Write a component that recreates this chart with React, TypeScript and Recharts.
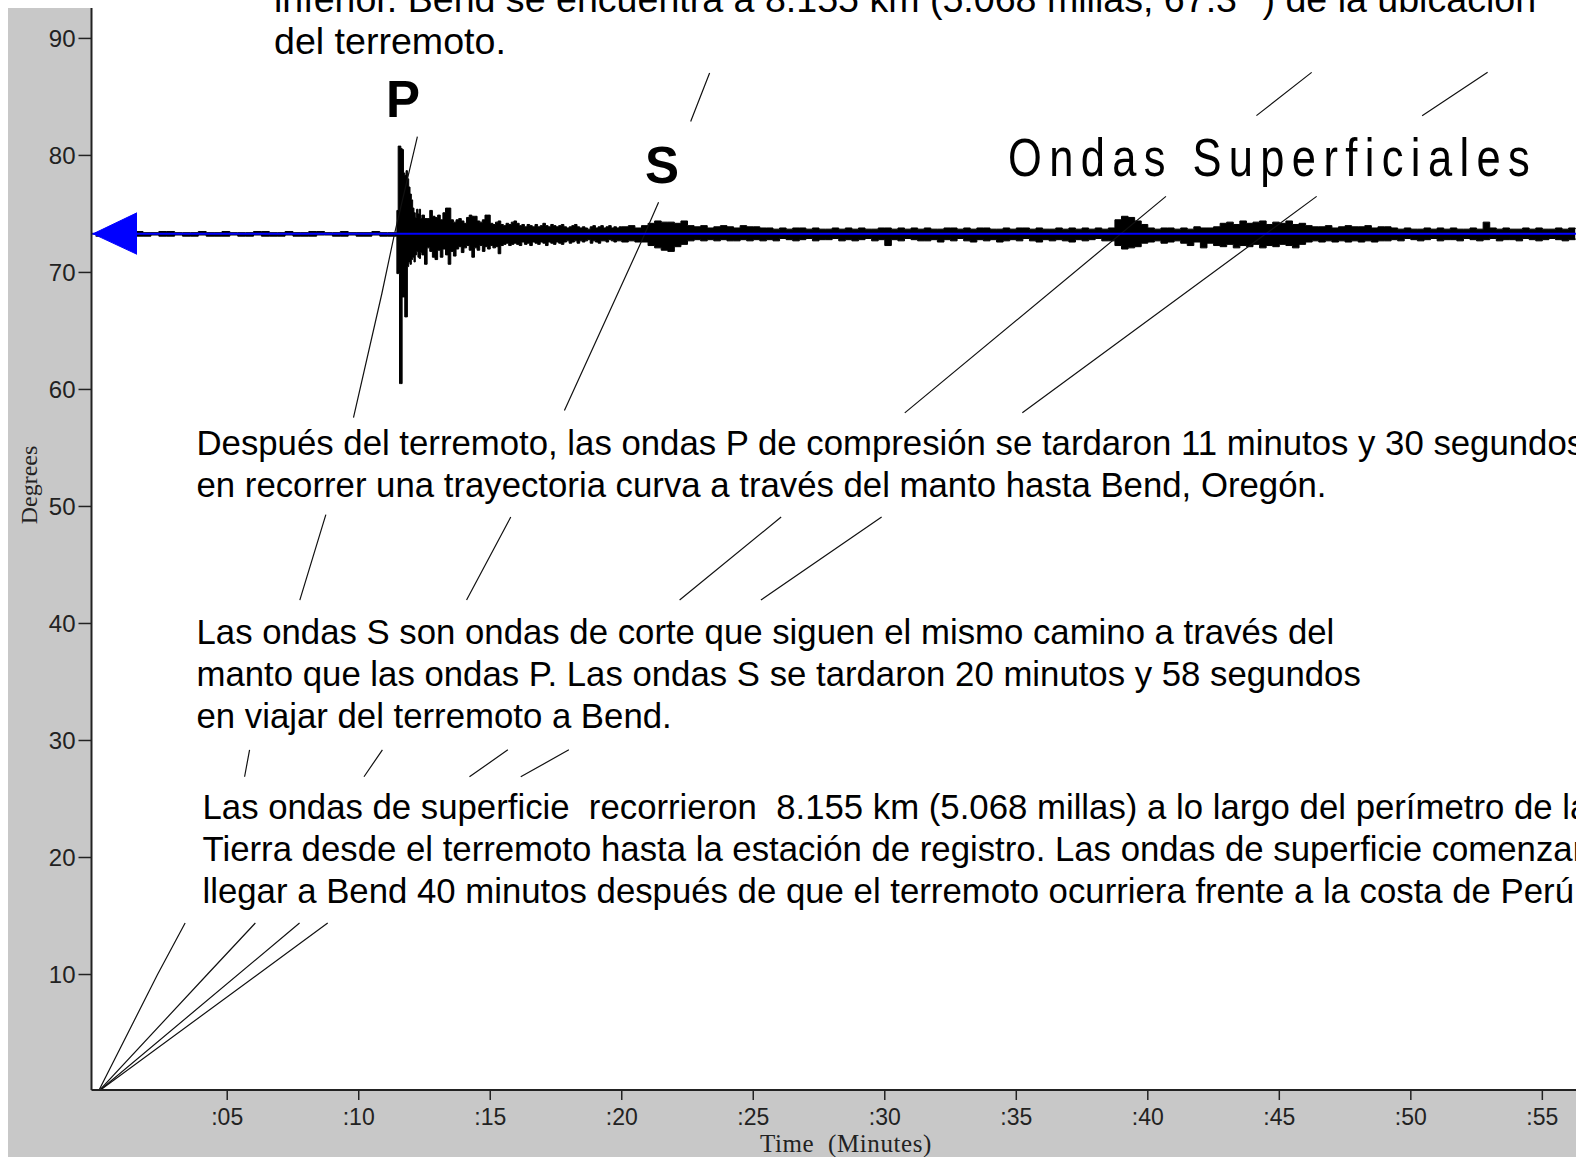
import React from 'react';
import { ComposedChart, Line, Area, XAxis, YAxis, CartesianGrid, Label } from 'recharts';

// ---- axes ----
const xTicks = [5, 10, 15, 20, 25, 30, 35, 40, 45, 50, 55];
const xTickLabels = [':05', ':10', ':15', ':20', ':25', ':30', ':35', ':40', ':45', ':50', ':55'];
const yTicks = [10, 20, 30, 40, 50, 60, 70, 80, 90];

// ---- travel-time curves [minutes, degrees]; null = hidden behind text ----
const pWave: [number, number | null][] = [
  [0.1, 0], [2.35, 10], [3.4, 14.4], [4.5, null], [5.66, 26.9], [5.85, 29.2], [6.8, null],
  [7.76, 42.0], [8.75, 49.3], [9.3, null], [9.8, 57.6], [10.88, 68.2], [11.36, 73.3], [12.23, 81.6],
];
const sWave: [number, number | null][] = [
  [0.1, 0], [4.24, 10], [6.07, 14.4], [8, null], [10.2, 26.9], [10.9, 29.2], [12, null],
  [14.1, 42.0], [15.78, 49.1], [16.8, null], [17.82, 58.2], [20.76, 72.7], [21.4, 76.0], [22, null],
  [22.62, 82.9], [23.34, 87.05],
];
const surfaceA: [number, number | null][] = [
  [0.1, 0], [7.75, 14.4], [10, null], [14.21, 26.9], [15.67, 29.2], [18, null],
  [22.2, 42.0], [26.06, 49.1], [28, null], [30.76, 58.0], [40.69, 76.5], [42, null],
  [44.13, 83.4], [46.23, 87.1],
];
const surfaceB: [number, number | null][] = [
  [0.1, 0], [8.82, 14.4], [12, null], [16.16, 26.9], [17.99, 29.2], [21, null],
  [25.29, 42.0], [29.88, 49.1], [32, null], [35.23, 58.0], [46.42, 76.5], [48, null],
  [50.43, 83.4], [52.92, 87.1],
];

// ---- seismogram (Bend, 73.3 deg): envelope above/below baseline, tenths of a degree ----
const traceBaseline = 73.3;
const preStart = 0, preStep = 0.3;
const preHi = [1,1,2,1,1,2,1,1,2,2, 1,1,1,2,1,1,2,1,1,1, 2,2,1,1,2,1,1,2,2,1, 1,2,1,1,1,2,1,1];
const preLo = [2,1,2,2,1,2,2,1,2,2, 1,2,2,1,2,2,2,1,2,2, 1,2,2,2,1,2,2,2,1,1, 2,2,1,2,2,1,2,2];
const pStart = 11.45, pStep = 0.05;
const pHi = [20,75,75,73,72,52,50,54,47,40, 34,29,22,18,14,21,17,21,13,16];
const pLo = [34,34,128,128,54,54,71,71,28,24, 26,22,20,24,18,15,20,21,16,18];
const codaStart = 12.5, codaStep = 0.1;
const codaHi = [13,13,20,15,14,16,12,18,22,22, 12,10,12,13,11,9,14,16,15,15, 11,10,12,16,16,9,8,10,11,8,
  7,9,8,10,11,9,7,8,6,8, 7,6,8,6,7,9,7,6,8,7, 6,7,8,6,5,6,7,8,6,5, 6,5,4,6,7,5,6,7,5,6, 7,5,6,5,6];
const codaLo = [26,12,15,20,22,14,20,13,18,26, 15,19,13,11,16,12,10,14,20,12, 14,10,15,11,13,10,12,11,17,10,
  9,8,10,9,8,9,10,7,9,8, 10,7,8,9,7,8,10,7,8,9, 7,8,9,7,6,8,7,6,8,6, 7,6,5,8,6,7,8,6,6,7, 5,6,7,6,6];
const restStart = 20.0, restStep = 0.25;
const restHi = [6,7,5,7, 9,11,10,10,9,11, 7,6,7,5,6,7,6,5,7,6,6,5,
  5,4,5,4,5,5,4,5,4,4,5,4,5,4,5,4,4,5,5,4,5,4,5,4,
  5,4,4,5,5,4,5,4,5,5,4,4,5,4,5,5,4,5,4,4,5,4,5,4,5,4,5,4,
  5, 12,15,14,11,8, 5,4,5,5,4,5,4,6,5,5,6,
  9,10,8,11,9,10,11,8,10,9,11,8,9,
  7,6,6,7,5,6,7,6,6,7,5,6,6,
  5,4,5,4,4,5,4,5,4,5,4,4,5,4,10,5,4,5,4,4,5,4,5,4,4,5,4,5,4];
const restLo = [7,6,7,7, 10,12,14,15,11,9, 6,5,6,5,6,5,6,6,5,6,5,6,
  5,6,4,5,6,5,4,6,5,5,4,6,5,6,5,4,6,5,10,5,6,4,5,6,
  6,5,7,5,6,4,6,7,5,6,5,7,6,5,6,4,6,7,5,6,5,6,7,5,6,5,4,6,
  6, 10,13,12,11,8, 7,6,8,7,6,8,10,7,12,8,10,
  11,9,12,10,11,9,12,10,11,9,10,12,9,
  7,6,7,6,7,6,7,6,7,6,7,6,6,
  5,6,4,5,6,5,4,6,5,5,6,4,5,6,5,4,6,5,5,6,4,5,6,5,4,5,6,5,4];

// blue marker arrow and baseline
const arrowTip = { t: -0.1, v: 73.3 };
const arrowBase = { t: 1.57, lo: 71.55, hi: 75.1 };

const curve = (pts: [number, number | null][]) => pts.map(([t, d]) => ({ t, d }));

const segment = (start: number, step: number, hi: number[], lo: number[]) =>
  hi.map((h, i) => ({ t: start + i * step, r: [traceBaseline - lo[i] / 10, traceBaseline + h / 10] }));

const traceData = [
  ...segment(preStart, preStep, preHi, preLo),
  ...segment(pStart, pStep, pHi, pLo),
  ...segment(codaStart, codaStep, codaHi, codaLo),
  ...segment(restStart, restStep, restHi, restLo),
];

const arrowData = [
  { t: arrowTip.t, r: [arrowTip.v, arrowTip.v] },
  { t: arrowBase.t, r: [arrowBase.lo, arrowBase.hi] },
];
const baselineData = [{ t: -0.16, v: traceBaseline }, { t: 56.28, v: traceBaseline }];

const W = 1568;
const H = 1149;

const sans = "'Liberation Sans', Arial, Helvetica, sans-serif";
const serif = "'Liberation Serif', 'Times New Roman', serif";

const YTitle = () => (
  <text x={20.5} y={477} transform="rotate(-90 20.5 477)" textAnchor="middle"
    dominantBaseline="central" fontFamily={serif} fontSize={24} fill="#222">Degrees</text>
);
const XTitle = () => (
  <text x={838} y={1144} textAnchor="middle" fontFamily={serif} fontSize={25} letterSpacing={0.6} fill="#222"
    style={{ whiteSpace: 'pre' }}>{'Time  (Minutes)'}</text>
);

const para: React.CSSProperties = {
  position: 'absolute', fontFamily: sans, fontSize: 34.75, lineHeight: '42.2px',
  whiteSpace: 'pre', color: '#000',
};
const bigLetter: React.CSSProperties = {
  position: 'absolute', fontFamily: sans, fontSize: 51, lineHeight: '51px',
  fontWeight: 'bold', color: '#000',
};

const curveStroke = '#111';

export default function App() {
  return (
    <div style={{ position: 'absolute', left: 8, top: 0, width: W, height: 1157, overflow: 'hidden' }}>
      <div style={{ position: 'absolute', left: 0, top: 8, width: W, height: H, background: '#c8c8c8' }}>
        <ComposedChart width={W} height={H} margin={{ top: 0, right: 0, bottom: 0, left: 0 }}>
          <CartesianGrid horizontal={false} vertical={false} fill="#ffffff" stroke="none" />
          <XAxis type="number" dataKey="t" domain={[-0.16, 56.28]} allowDataOverflow ticks={xTicks}
            interval={0} height={67} tickSize={10} tickMargin={9}
            tickFormatter={(v: number) => xTickLabels[xTicks.indexOf(v)] ?? ''}
            axisLine={{ stroke: '#222', strokeWidth: 2 }} tickLine={{ stroke: '#222', strokeWidth: 1.5 }}
            tick={{ fontSize: 23, fill: '#222', fontFamily: sans }}>
            <Label content={XTitle} />
          </XAxis>
          <YAxis type="number" domain={[0.13, 92.6]} allowDataOverflow ticks={yTicks} interval={0}
            width={83.5} tickSize={13} tickMargin={3}
            axisLine={{ stroke: '#222', strokeWidth: 2 }} tickLine={{ stroke: '#222', strokeWidth: 1.5 }}
            tick={{ fontSize: 24, fill: '#222', fontFamily: sans }}>
            <Label content={YTitle} />
          </YAxis>

          <Line data={curve(pWave)} dataKey="d" stroke={curveStroke} strokeWidth={1.2} dot={false}
            isAnimationActive={false} connectNulls={false} />
          <Line data={curve(sWave)} dataKey="d" stroke={curveStroke} strokeWidth={1.2} dot={false}
            isAnimationActive={false} connectNulls={false} />
          <Line data={curve(surfaceA)} dataKey="d" stroke={curveStroke} strokeWidth={1.2} dot={false}
            isAnimationActive={false} connectNulls={false} />
          <Line data={curve(surfaceB)} dataKey="d" stroke={curveStroke} strokeWidth={1.2} dot={false}
            isAnimationActive={false} connectNulls={false} />

          <Area data={traceData} dataKey="r" type="stepAfter" fill="#000" fillOpacity={1}
            stroke="#000" strokeWidth={1} isAnimationActive={false} />
          <Line data={baselineData} dataKey="v" stroke="#0000ff" strokeWidth={2} dot={false}
            isAnimationActive={false} />
          <Area data={arrowData} dataKey="r" type="linear" fill="#0000ff" fillOpacity={1}
            stroke="#0000ff" strokeWidth={1} isAnimationActive={false} />
        </ComposedChart>
      </div>

      <div style={{ ...para, fontSize: 37.6, left: 266, top: -22.5 }}>
        {'inferior. Bend se encuentra a 8.155 km (5.068 millas, 67.3° ) de la ubicación\ndel terremoto.'}
      </div>
      <div style={{ ...bigLetter, left: 378, top: 74.4 }}>P</div>
      <div style={{ ...bigLetter, left: 637, top: 140 }}>S</div>
      <div style={{
        position: 'absolute', left: 1000, top: 131, fontFamily: sans, fontSize: 53, lineHeight: '53px',
        letterSpacing: 9.0, whiteSpace: 'pre', color: '#000', transform: 'scaleX(0.82)', transformOrigin: '0 0',
      }}>Ondas Superficiales</div>
      <div style={{ ...para, left: 188.5, top: 422 }}>
        {'Después del terremoto, las ondas P de compresión se tardaron 11 minutos y 30 segundos\nen recorrer una trayectoria curva a través del manto hasta Bend, Oregón.'}
      </div>
      <div style={{ ...para, left: 188.5, top: 611 }}>
        {'Las ondas S son ondas de corte que siguen el mismo camino a través del\nmanto que las ondas P. Las ondas S se tardaron 20 minutos y 58 segundos\nen viajar del terremoto a Bend.'}
      </div>
      <div style={{ ...para, left: 194.5, top: 785.7 }}>
        {'Las ondas de superficie  recorrieron  8.155 km (5.068 millas) a lo largo del perímetro de la\nTierra desde el terremoto hasta la estación de registro. Las ondas de superficie comenzaron a\nllegar a Bend 40 minutos después de que el terremoto ocurriera frente a la costa de Perú.'}
      </div>
    </div>
  );
}
